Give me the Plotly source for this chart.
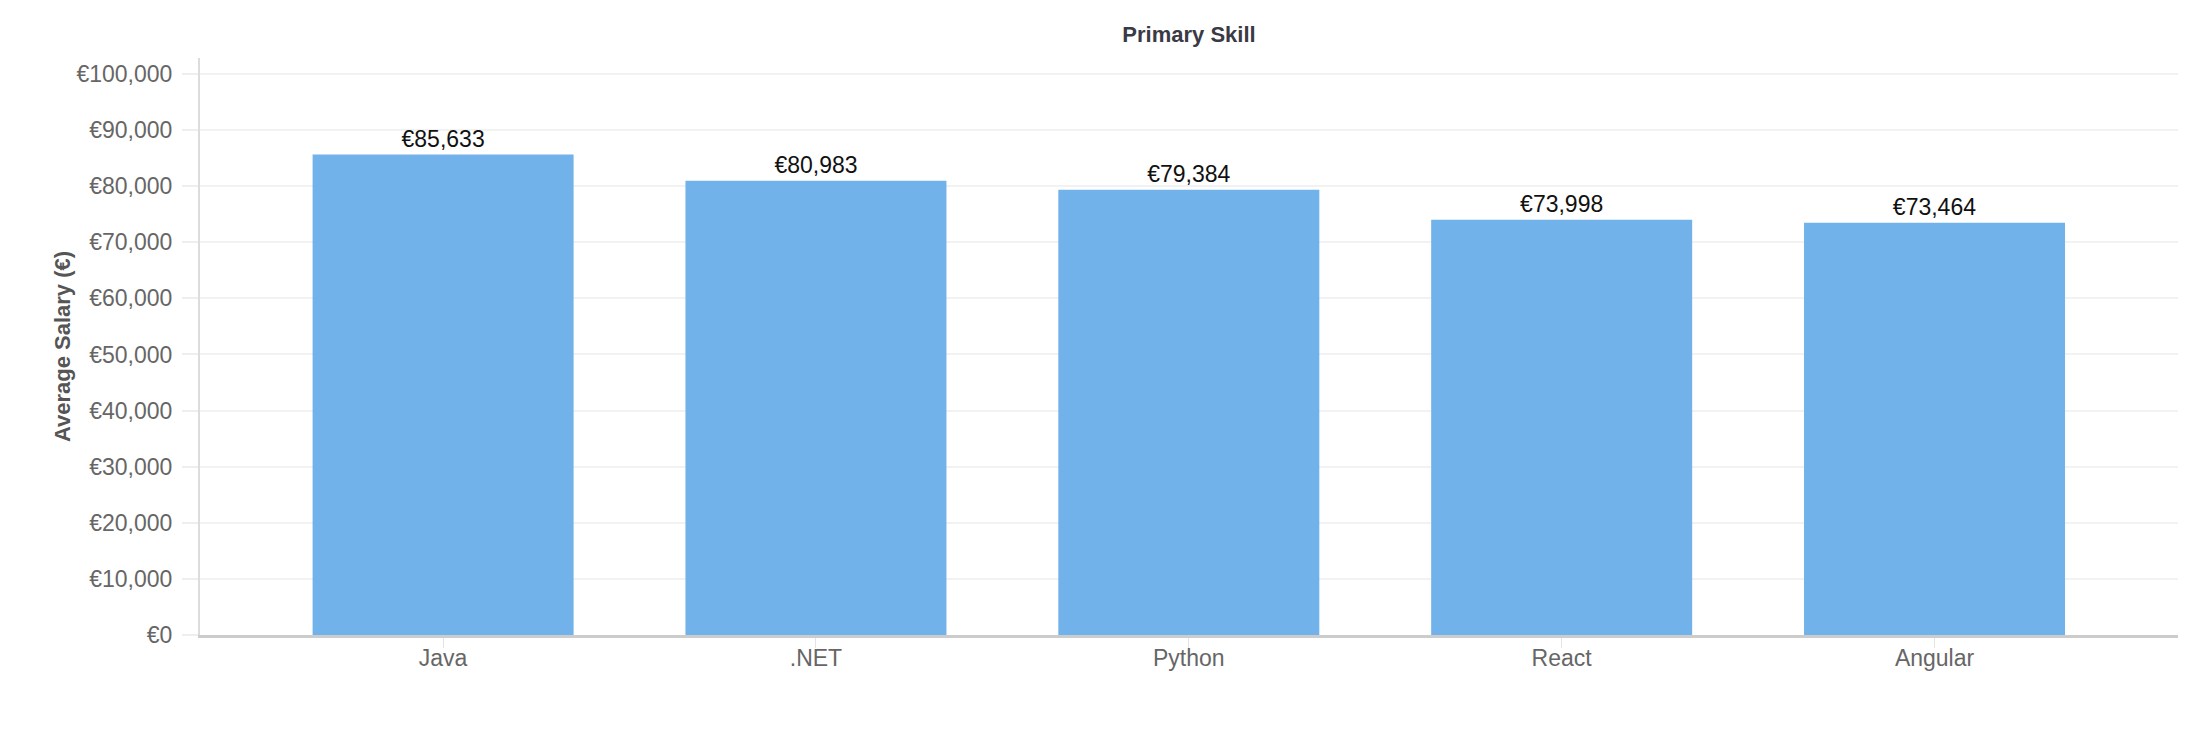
import plotly.graph_objects as go

# Average salary by primary skill
skills = ['Java', '.NET', 'Python', 'React', 'Angular']
salaries = [85633, 80983, 79384, 73998, 73464]
y_ticks = list(range(0, 100001, 10000))

FONT = 'Arial, Liberation Sans, sans-serif'
BAR_COLOR = '#72b2ea'

# page has an 8px body margin, so the figure is a bit smaller than the window
W, H = 2194, 714

fig = go.Figure()

fig.add_trace(go.Bar(
    x=skills,
    y=salaries,
    width=0.70,
    marker=dict(color=BAR_COLOR, line=dict(width=0)),
    texttemplate='€%{y:,}',
    textposition='outside',
    textfont=dict(family=FONT, size=23, color='#111111'),
    cliponaxis=False,
    hovertemplate='%{x}: €%{y:,}<extra></extra>',
))

fig.update_layout(
    width=W,
    height=H,
    paper_bgcolor='white',
    plot_bgcolor='white',
    font=dict(family=FONT, size=23, color='#666666'),
    title=dict(
        text='<b>Primary Skill</b>',
        font=dict(family=FONT, size=22, color='#3a3a45'),
        x=(192 + 2170) / 2 / W,
        xanchor='center',
        yref='container',
        y=1 - 19 / H,
        yanchor='top',
    ),
    margin=dict(l=192, r=24, t=50, b=87),
    showlegend=False,
    xaxis=dict(
        type='category',
        range=[-0.652, 4.653],
        showgrid=False,
        showline=True,
        linecolor='#cccccc',
        linewidth=3,
        ticks='outside',
        ticklen=10,
        tickwidth=1,
        tickcolor='#e4e4e4',
        ticklabelstandoff=-10,
        tickfont=dict(family=FONT, size=23, color='#666666'),
        zeroline=False,
    ),
    yaxis=dict(
        range=[0, 102850],
        tickmode='array',
        tickvals=y_ticks,
        ticktext=[f'€{v:,}' for v in y_ticks],
        showgrid=True,
        gridcolor='#f2f2f2',
        gridwidth=2,
        showline=True,
        linecolor='#dcdcdc',
        linewidth=2,
        ticks='outside',
        ticklen=16,
        tickwidth=2,
        tickcolor='#eeeeee',
        ticklabelstandoff=5,
        tickfont=dict(family=FONT, size=23, color='#666666'),
        zeroline=False,
        title=dict(
            text='<b>Average Salary (€)</b>',
            font=dict(family=FONT, size=22, color='#555555'),
            standoff=0,
        ),
    ),
)

fig.write_html('out.html')
